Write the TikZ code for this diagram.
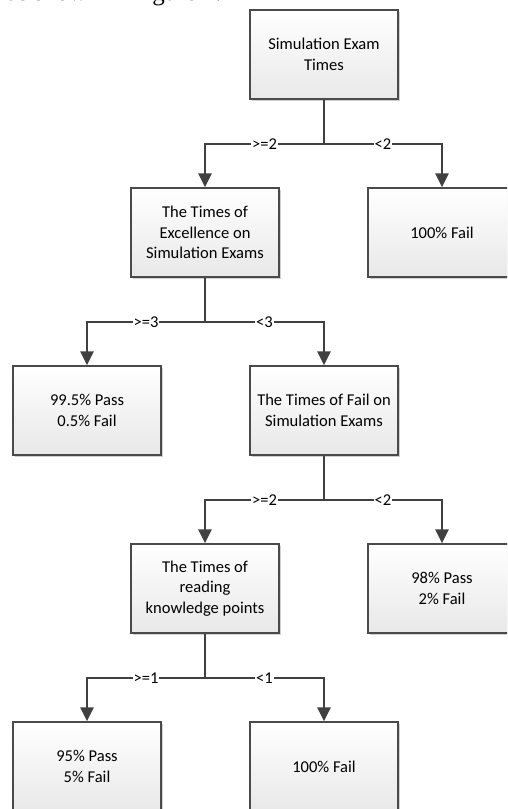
\documentclass[tikz,border=0pt]{standalone}
\usepackage{fontspec}
\setmainfont{Carlito}
\newfontfamily\bodyserif{Liberation Serif}
\usetikzlibrary{arrows.meta,shadows}
\definecolor{edgecol}{HTML}{404040}
\definecolor{boxline}{HTML}{4A4A4A}
\tikzset{
  box/.style={draw=boxline, line width=1.1pt, rectangle,
    minimum width=111pt, minimum height=66.75pt,
    top color=white, bottom color=black!9, align=center,
    font=\fontsize{12.4}{15.5}\selectfont, inner sep=2pt,
    drop shadow={shadow xshift=1.5pt, shadow yshift=-1.5pt, fill=black!40, opacity=0.45}},
  conn/.style={draw=edgecol, line width=1.5pt},
  arr/.style={conn, -{Triangle[length=10.5pt,width=10pt]}},
  lbl/.style={fill=white, inner sep=0.8pt, font=\fontsize{12.4}{15}\selectfont, text=black},
}
\begin{document}
\begin{tikzpicture}[x=0.75pt,y=-0.75pt]
\useasboundingbox (0,0) rectangle (507,809);
\begin{scope}
\clip (0,0) rectangle (507,809);
\node[anchor=base east, font=\bodyserif\fontsize{18.75}{20}\selectfont, inner sep=0] (cap) at (222,1) {as shown in Figure 2.};

\node[box] (b1) at (324,54.5) {Simulation Exam\\Times};
\node[box] (b2) at (205,232.5) {The Times of\\Excellence on\\Simulation Exams};
\node[box] (b3) at (442,232.5) {100\% Fail};
\node[box] (b4) at (87,410.5) {99.5\% Pass\\0.5\% Fail};
\node[box] (b5) at (324,410.5) {The Times of Fail on\\Simulation Exams};
\node[box] (b6) at (205,588.5) {The Times of\\reading\\knowledge points};
\node[box] (b7) at (442,588.5) {98\% Pass\\2\% Fail};
\node[box] (b8) at (87,766.5) {95\% Pass\\5\% Fail};
\node[box] (b9) at (324,766.5) {100\% Fail};

\draw[conn] (b1.south) -- ++(0,44.5) coordinate (j1);
\draw[arr] (j1) -| node[lbl,pos=0.25]{>=2} (b2.north);
\draw[arr] (j1) -| node[lbl,pos=0.25]{<2} (b3.north);

\draw[conn] (b2.south) -- ++(0,44.5) coordinate (j2);
\draw[arr] (j2) -| node[lbl,pos=0.25]{>=3} (b4.north);
\draw[arr] (j2) -| node[lbl,pos=0.25]{<3} (b5.north);

\draw[conn] (b5.south) -- ++(0,44.5) coordinate (j3);
\draw[arr] (j3) -| node[lbl,pos=0.25]{>=2} (b6.north);
\draw[arr] (j3) -| node[lbl,pos=0.25]{<2} (b7.north);

\draw[conn] (b6.south) -- ++(0,44.5) coordinate (j4);
\draw[arr] (j4) -| node[lbl,pos=0.25]{>=1} (b8.north);
\draw[arr] (j4) -| node[lbl,pos=0.25]{<1} (b9.north);
\end{scope}
\end{tikzpicture}
\end{document}
